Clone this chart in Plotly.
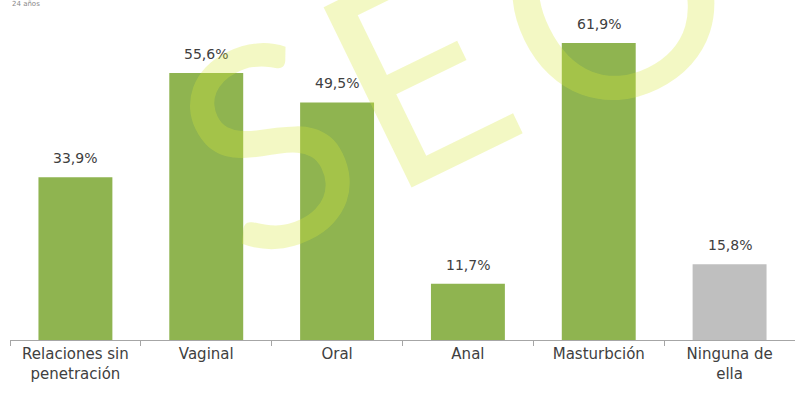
import plotly.graph_objects as go

categories = ["Relaciones sin<br>penetración", "Vaginal", "Oral", "Anal", "Masturbción", "Ninguna de<br>ella"]
values = [33.9, 55.6, 49.5, 11.7, 61.9, 15.8]
labels = ["33,9%", "55,6%", "49,5%", "11,7%", "61,9%", "15,8%"]
colors = ["#8fb450", "#8fb450", "#8fb450", "#8fb450", "#8fb450", "#bfbfbf"]

watermark_letters = ["S", "E", "O"]
watermark_x = [0.325, 0.515, 0.764]
watermark_y = [0.61, 0.83, 1.06]

FONT = "DejaVu Sans"

fig = go.Figure()
fig.add_trace(go.Bar(
    x=categories, y=values,
    marker=dict(color=colors, line=dict(width=0)),
))

for c, v, t in zip(categories, values, labels):
    fig.add_annotation(
        x=c, y=v, text=t, showarrow=False, yanchor="bottom", yshift=9,
        font=dict(size=14, color="#404040", family=FONT),
    )

for ch, wx, wy in zip(watermark_letters, watermark_x, watermark_y):
    fig.add_annotation(
        text=ch, xref="paper", yref="paper", x=wx, y=wy,
        xanchor="center", yanchor="middle",
        showarrow=False, textangle=-26,
        font=dict(size=280, color="rgba(215,232,60,0.30)", family="Lato"),
    )
fig.add_annotation(
    text="24 años", xref="paper", yref="paper", x=0.0, y=1.0,
    xanchor="left", yanchor="bottom", showarrow=False,
    font=dict(size=7, color="#888888", family=FONT),
)

fig.update_layout(
    width=795, height=398,
    margin=dict(l=10, r=0, t=10, b=58),
    paper_bgcolor="white", plot_bgcolor="white",
    bargap=0.435, showlegend=False,
    font=dict(family=FONT, color="#404040"),
)
fig.update_xaxes(
    showline=True, linecolor="#a6a6a6", linewidth=1,
    ticks="outside", tickson="boundaries", ticklen=5, tickcolor="#a6a6a6",
    tickfont=dict(size=15, color="#404040", family=FONT),
    showgrid=False,
)
fig.update_yaxes(range=[0, 68.75], visible=False, showgrid=False)

fig.write_html("out.html")
